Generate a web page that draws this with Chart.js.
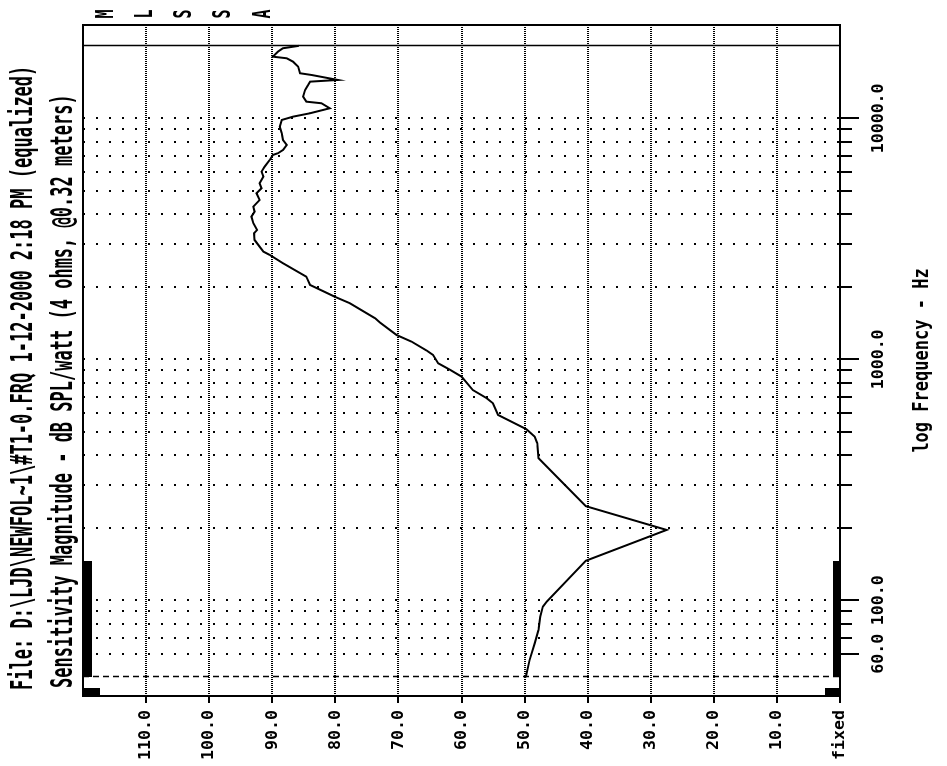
<!DOCTYPE html>
<html><head><meta charset="utf-8">
<script src="https://cdn.jsdelivr.net/npm/chart.js@4/dist/chart.umd.min.js"></script>
<style>
html,body{margin:0;padding:0;background:#fff;overflow:hidden;width:947px;height:766px;}
#wrap{position:absolute;left:0;top:0;width:766px;height:947px;transform-origin:0 0;transform:translate(0,766px) rotate(-90deg);background:#fff;}
canvas{display:block;}
</style></head><body>
<div id="wrap"><canvas id="c" width="766" height="947" style="width:766px;height:947px"></canvas></div>
<script>
// ---- texts ----
const titleLine1 = 'File: D:\\LJD\\NEWFOL~1\\#T1-0.FRQ 1-12-2000 2:18 PM (equalized)';
const titleLine2 = 'Sensitivity Magnitude - dB SPL/watt (4 ohms, @0.32 meters)';
const freqAxisTitle = 'log Frequency - Hz';
const menuLetters = ['M', 'L', 'S', 'S', 'A'];
const dbZeroLabel = 'fixed';

// ---- data (frequency in Hz, level in dB SPL/watt) ----
const freqHz = [48, 56.6, 66.4, 75.4, 85.6, 94.2, 98.8, 146, 196, 246,
  389, 449, 478, 513, 588, 657, 690, 746, 848, 904,
  963, 1043, 1087, 1184, 1262, 1420, 1481, 1710, 1820, 2036,
  2204, 2505, 2712, 2798, 2935, 3129, 3337, 3444, 3671, 3910,
  4102, 4302, 4586, 4889, 5129, 5380, 5731, 6009, 6304, 6722,
  7050, 7166, 7395, 7757, 8135, 8673, 9238, 9849, 10164, 10500,
  11012, 11553, 11730, 12303, 13118, 13761, 14202, 14433, 15141, 15387,
  16385, 17187, 17755, 18030, 18918, 19541, 20000];
const splDb = [49.8, 49.2, 48.4, 47.8, 47.5, 47.1, 46.5, 40.3, 27.5, 40.3,
  47.8, 48.0, 48.4, 49.7, 54.2, 55.0, 56.0, 58.2, 60.0, 61.8,
  63.7, 64.5, 65.5, 67.9, 70.3, 72.9, 73.7, 77.7, 80.1, 84.0,
  84.6, 88.3, 90.4, 91.4, 92.0, 92.8, 92.9, 92.4, 93.0, 93.3,
  92.8, 93.0, 92.0, 92.5, 91.7, 92.0, 91.4, 91.7, 91.2, 90.4,
  89.9, 89.1, 88.3, 87.7, 88.3, 88.5, 88.8, 88.5, 86.7, 84.0,
  80.9, 82.2, 84.6, 85.1, 84.8, 84.3, 84.0, 79.6, 83.8, 85.6,
  85.9, 86.7, 87.7, 89.9, 89.1, 88.3, 85.8];

// ---- axes ----
const freqTicks = [60, 70, 80, 90, 100, 200, 300, 400, 500, 600, 700, 800, 900,
  1000, 2000, 3000, 4000, 5000, 6000, 7000, 8000, 9000, 10000];
const freqLabelled = [60, 100, 1000, 10000];
const dbTicks = [0, 10, 20, 30, 40, 50, 60, 70, 80, 90, 100, 110, 120];
const freqMin = 40.1, freqMax = 24400;
const dbMin = 0, dbMax = 120;
const freqUpperLimit = 20000;   // solid limit line
const freqLowerLimit = 48;      // dashed limit line
const gateFreq = 146;           // end of the low-frequency marker bars

const MONO = '"DejaVu Sans Mono", "Liberation Mono", monospace';

function drawStretched(ctx, text, x, baseline, font, k, align) {
  ctx.save();
  ctx.font = font;
  ctx.fillStyle = '#000';
  ctx.textAlign = align || 'left';
  ctx.textBaseline = 'alphabetic';
  ctx.translate(x, baseline);
  ctx.scale(1, k);
  ctx.fillText(text, 0, 0);
  ctx.restore();
}

const decor = {
  id: 'decor',
  afterDatasetsDraw(chart) {
    const {ctx, chartArea: a, scales: {x}} = chart;
    ctx.save();
    // dashed lower limit line
    const xl = Math.round(x.getPixelForValue(freqLowerLimit)) + 0.5;
    ctx.strokeStyle = '#000';
    ctx.lineWidth = 1.5;
    ctx.setLineDash([6, 4]);
    ctx.beginPath(); ctx.moveTo(xl, a.top); ctx.lineTo(xl, a.bottom); ctx.stroke();
    ctx.setLineDash([]);
    // upper limit line
    const xu = Math.round(x.getPixelForValue(freqUpperLimit)) + 0.5;
    ctx.lineWidth = 1.5;
    ctx.beginPath(); ctx.moveTo(xu, a.top); ctx.lineTo(xu, a.bottom); ctx.stroke();
    // low-frequency marker bars
    const xg = Math.round(x.getPixelForValue(gateFreq));
    const xs = Math.round(x.getPixelForValue(freqLowerLimit));
    ctx.fillStyle = '#000';
    ctx.fillRect(xs, a.top, xg - xs, 9);
    ctx.fillRect(xs, a.bottom - 7, xg - xs, 7);
    ctx.fillRect(a.left, a.top, 8, 17);
    ctx.fillRect(a.left, a.bottom - 15, 8, 15);
    ctx.restore();
  },
  afterDraw(chart) {
    const {ctx, chartArea: a, scales: {x}} = chart;
    ctx.save();
    // frame
    ctx.strokeStyle = '#000';
    ctx.lineWidth = 2;
    ctx.strokeRect(a.left, a.top, a.right - a.left, a.bottom - a.top);
    // minor frequency ticks
    ctx.lineWidth = 2;
    freqTicks.filter(f => !freqLabelled.includes(f)).forEach(f => {
      const px = Math.round(x.getPixelForValue(f));
      ctx.beginPath(); ctx.moveTo(px, a.bottom); ctx.lineTo(px, a.bottom + 12); ctx.stroke();
    });
    ctx.restore();
    // titles
    drawStretched(ctx, titleLine1, 76, 32, 'bold 17px ' + MONO, 1.75, 'left');
    drawStretched(ctx, titleLine2, 78, 72, 'bold 17px ' + MONO, 1.75, 'left');
    drawStretched(ctx, freqAxisTitle, (a.left + a.right) / 2, 928, 'bold 17px ' + MONO, 1.25, 'center');
    const menuY = [104, 143, 182, 221, 261];
    menuLetters.forEach((m, i) => drawStretched(ctx, m, 752, menuY[i] + 9, 'bold 15px ' + MONO, 1.6, 'center'));
  }
};

new Chart(document.getElementById('c'), {
  type: 'line',
  data: {
    datasets: [{
      data: freqHz.map((f, i) => ({x: f, y: splDb[i]})),
      borderColor: '#000',
      borderWidth: 2,
      pointRadius: 0,
      tension: 0,
      fill: false
    }]
  },
  options: {
    responsive: false,
    animation: false,
    devicePixelRatio: 1,
    layout: {padding: {left: 0, right: 25, top: 83, bottom: 0}},
    plugins: {legend: {display: false}, tooltip: {enabled: false}, title: {display: false}},
    scales: {
      x: {
        type: 'logarithmic',
        min: freqMin,
        max: freqMax,
        afterBuildTicks: s => { s.ticks = freqTicks.map(v => ({value: v})); },
        afterFit: s => { s.height = 107; },
        ticks: {
          autoSkip: false, maxRotation: 0, minRotation: 0, padding: 10,
          color: '#000',
          font: {family: MONO, size: 16.6, weight: 'bold'},
          callback: v => freqLabelled.includes(v) ? Number(v).toFixed(1) : ''
        },
        grid: {
          color: '#000', lineWidth: 2, borderDash: [2, 11],
          drawTicks: true, tickLength: 19, tickWidth: 2, tickBorderDash: [],
          tickColor: c => (c.tick && freqLabelled.includes(c.tick.value)) ? '#000' : 'rgba(0,0,0,0)'
        },
        border: {display: false, dash: [2, 11]}
      },
      y: {
        type: 'linear',
        min: dbMin,
        max: dbMax,
        afterBuildTicks: s => { s.ticks = dbTicks.map(v => ({value: v})); },
        afterFit: s => { s.width = 70; },
        ticks: {
          autoSkip: false, padding: 7, color: '#000',
          font: {family: MONO, size: 16.6, weight: 'bold'},
          callback: v => v === dbMax ? '' : (v === 0 ? dbZeroLabel : Number(v).toFixed(1))
        },
        grid: {
          color: '#000', lineWidth: 2, borderDash: [1, 1],
          drawTicks: true, tickLength: 7, tickWidth: 2, tickBorderDash: [],
          tickColor: c => (c.tick && c.tick.value === dbMax) ? 'rgba(0,0,0,0)' : '#000'
        },
        border: {display: false, dash: [1, 1]}
      }
    }
  },
  plugins: [decor]
});
</script>
</body></html>
